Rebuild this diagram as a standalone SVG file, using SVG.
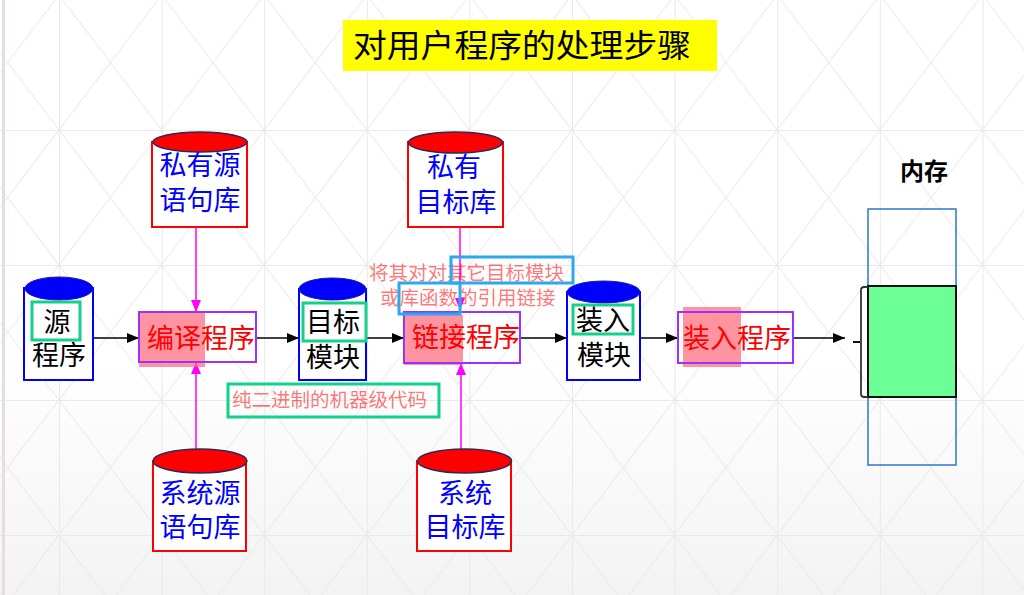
<svg xmlns="http://www.w3.org/2000/svg" width="1024" height="595" viewBox="0 0 1024 595">
<defs>
<linearGradient id="bg" x1="0" y1="0" x2="0" y2="1">
<stop offset="0" stop-color="#ffffff"/>
<stop offset="0.6" stop-color="#ffffff"/>
<stop offset="1" stop-color="#f3f3f3"/>
</linearGradient>
<pattern id="grid" patternUnits="userSpaceOnUse" x="59" y="-5" width="102.6" height="135">
<g stroke="#e9e9e9" stroke-width="1" fill="none">
<line x1="0.5" y1="0" x2="0.5" y2="135"/>
<line x1="0" y1="0.5" x2="102.6" y2="0.5"/>
<line x1="0" y1="0" x2="102.6" y2="135"/>
<line x1="102.6" y1="0" x2="0" y2="135"/>
</g>
</pattern>
<marker id="ab" viewBox="0 0 12 10" refX="12" refY="5" markerWidth="12" markerHeight="10" markerUnits="userSpaceOnUse" orient="auto">
<path d="M0,0 L12,5 L0,10 Z" fill="#000"/>
</marker>
<marker id="am" viewBox="0 0 12 10" refX="12" refY="5" markerWidth="12" markerHeight="10" markerUnits="userSpaceOnUse" orient="auto">
<path d="M0,0 L12,5 L0,10 Z" fill="#ff00ff"/>
</marker>
<style>
.cjk{font-family:"Noto Sans CJK SC","Noto Sans",sans-serif;}
.lbl{font-size:27px;fill:#000;text-anchor:middle;}
.blu{font-size:27px;fill:#0000ff;text-anchor:middle;}
.red{font-size:27px;fill:#ff0000;}
.note{font-size:19.5px;fill:#ff0000;fill-opacity:0.55;}
.body{fill:#ffffff;stroke:#0000ff;stroke-width:2;}
.top{fill:#0000ff;stroke:#1a1aa8;stroke-width:1;}
.rbody{fill:#ffffff;stroke:#ff0000;stroke-width:2;}
.rtop{fill:#ff0000;stroke:#2a2a5a;stroke-width:1.5;}
.gbox{fill:none;stroke:#14d08a;stroke-width:3;}
.bbox{fill:none;stroke:#2aa8f0;stroke-width:3;}
.proc{fill:none;stroke:#9b30ff;stroke-width:2;}
.hl{fill:#ff6b7d;fill-opacity:0.72;}
.conn{stroke:#000;stroke-width:1.5;fill:none;}
.mconn{stroke:#ff00ff;stroke-width:1.5;fill:none;}
</style>
</defs>
<rect x="0" y="0" width="1024" height="595" fill="url(#bg)"/>
<rect x="0" y="0" width="1024" height="595" fill="url(#grid)"/>
<rect x="2" y="0" width="3" height="595" fill="#e6dce4"/>

<g id="title">
<rect x="343" y="20" width="374" height="51" fill="#ffff00"/>
<text class="cjk" x="353" y="57" font-size="32" fill="#000" textLength="338" lengthAdjust="spacingAndGlyphs">对用户程序的处理步骤</text>
</g>

<g id="connectors">
<line class="conn" x1="93" y1="338" x2="139" y2="338" marker-end="url(#ab)"/>
<line class="conn" x1="256" y1="338" x2="299" y2="338" marker-end="url(#ab)"/>
<line class="conn" x1="366" y1="338" x2="404" y2="338" marker-end="url(#ab)"/>
<line class="conn" x1="520" y1="338" x2="567" y2="338" marker-end="url(#ab)"/>
<line class="conn" x1="640" y1="338" x2="678" y2="338" marker-end="url(#ab)"/>
<line class="conn" x1="793" y1="338" x2="845" y2="338" marker-end="url(#ab)"/>
<line class="mconn" x1="196" y1="227" x2="196" y2="312" marker-end="url(#am)"/>
<line class="mconn" x1="196" y1="450" x2="196" y2="362" marker-end="url(#am)"/>
<line class="mconn" x1="460" y1="227" x2="460" y2="310" marker-end="url(#am)"/>
<line class="mconn" x1="461" y1="450" x2="461" y2="363" marker-end="url(#am)"/>
</g>

<g id="src">
<rect class="body" x="24" y="288" width="69" height="92"/>
<ellipse class="top" cx="59" cy="288.5" rx="34" ry="11.5"/>
<rect class="gbox" x="32" y="302" width="48" height="38"/>
<text class="cjk lbl" x="57" y="332">源</text>
<text class="cjk lbl" x="59" y="365">程序</text>
</g>

<g id="compiler">
<rect class="hl" x="139" y="312" width="66" height="55"/>
<rect class="proc" x="139" y="312" width="117" height="50"/>
<text class="cjk red" x="147" y="348">编译程序</text>
</g>

<g id="privsrc">
<rect class="rbody" x="152" y="142" width="95" height="85"/>
<ellipse class="rtop" cx="200" cy="142" rx="47" ry="10"/>
<text class="cjk blu" x="200" y="175">私有源</text>
<text class="cjk blu" x="200" y="210">语句库</text>
</g>

<g id="syssrc">
<rect class="rbody" x="153" y="461" width="93" height="90"/>
<ellipse class="rtop" cx="200" cy="461" rx="47" ry="12"/>
<text class="cjk blu" x="200" y="503">系统源</text>
<text class="cjk blu" x="200" y="537">语句库</text>
</g>

<g id="objmod">
<rect class="body" x="299" y="289" width="67" height="91"/>
<ellipse class="top" cx="332.5" cy="289" rx="33.5" ry="11"/>
<rect class="gbox" x="303" y="303" width="63" height="38"/>
<text class="cjk lbl" x="333" y="332">目标</text>
<text class="cjk lbl" x="333" y="367">模块</text>
</g>

<g id="privobj">
<rect class="rbody" x="408" y="142" width="95" height="85"/>
<ellipse class="rtop" cx="455.5" cy="142.5" rx="47" ry="10.5"/>
<text class="cjk blu" x="454" y="177">私有</text>
<text class="cjk blu" x="456" y="212">目标库</text>
</g>

<g id="sysobj">
<rect class="rbody" x="417" y="461" width="94" height="90"/>
<ellipse class="rtop" cx="464.5" cy="461" rx="47" ry="12"/>
<text class="cjk blu" x="465" y="503">系统</text>
<text class="cjk blu" x="465" y="537">目标库</text>
</g>

<g id="linker">
<rect class="hl" x="404" y="315" width="59" height="50"/>
<rect class="proc" x="404" y="312" width="116" height="51"/>
<text class="cjk red" x="412" y="347">链接程序</text>
</g>

<g id="linknote">
<text class="cjk note" x="369" y="280">将其对对其它目标模块</text>
<text class="cjk note" x="380" y="305">或库函数的引用链接</text>
<rect class="bbox" x="451" y="257" width="122" height="26"/>
<rect class="bbox" x="399" y="283" width="61" height="31"/>
</g>

<g id="binnote">
<rect class="gbox" x="228" y="384" width="211" height="33"/>
<text class="cjk note" x="232" y="407">纯二进制的机器级代码</text>
</g>

<g id="loadmod">
<rect class="body" x="567" y="292" width="73" height="88"/>
<ellipse class="top" cx="603.5" cy="292" rx="36.5" ry="11"/>
<rect class="gbox" x="573" y="305" width="60" height="29"/>
<text class="cjk lbl" x="603" y="330">装入</text>
<text class="cjk lbl" x="604" y="365">模块</text>
</g>

<g id="loader">
<rect class="hl" x="683" y="307" width="58" height="60"/>
<rect class="proc" x="678" y="312" width="115" height="51"/>
<text class="cjk red" x="683" y="348">装入程序</text>
</g>

<g id="memory">
<text class="cjk" x="900" y="180" font-size="24" font-weight="bold" fill="#000">内存</text>
<rect x="868" y="209" width="88" height="256" fill="none" stroke="#2b78c8" stroke-width="1.5"/>
<rect x="868" y="286" width="88" height="111" fill="#6cff96" stroke="#111" stroke-width="2"/>
<line x1="853" y1="342" x2="860" y2="342" stroke="#111" stroke-width="2"/>
<path d="M868,287 L864,287 Q861,287 861,290 L861,394 Q861,397 864,397 L868,397" fill="none" stroke="#333" stroke-width="1.8"/>
</g>
</svg>
